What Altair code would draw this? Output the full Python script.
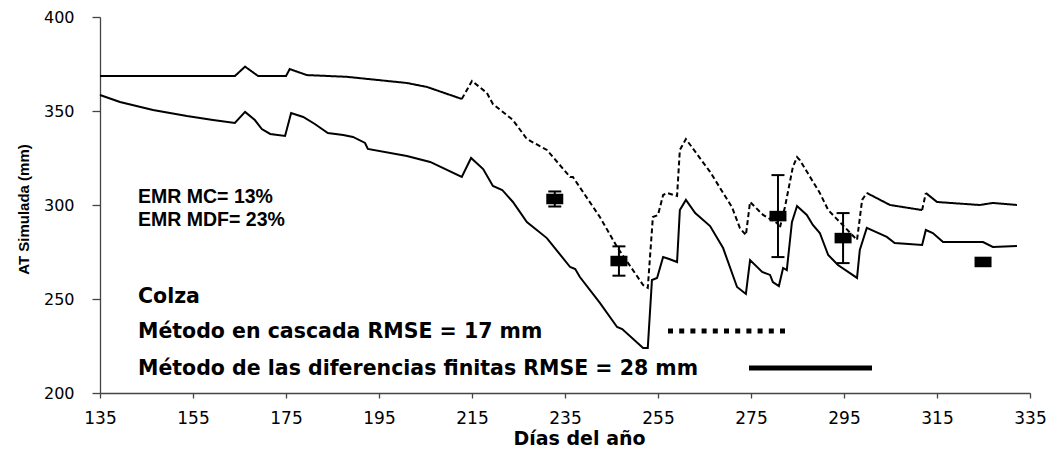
import altair as alt
import pandas as pd

# Simulated water storage, cascade method (upper curve)
up_day = [135, 164, 166.2, 169, 175, 175.8, 179.5, 188, 201, 205.3, 212.8, 215, 218.2, 219.5,
          223.8, 226.8, 231.1, 236.1, 236.7, 242.5, 246.2, 251.8, 252.8, 253.9, 255, 256.1,
          256.9, 259.1, 259.7, 261, 266.2, 270.9, 272.6, 273.9, 274.8, 277.6, 280.6, 281.2,
          282.3, 284, 284.9, 285.5, 289.8, 291.6, 297.8, 298.9, 299.9, 304.9, 311.8, 312.6,
          315, 317.8, 324.2, 327, 332.2]
up_val = [368.6, 368.6, 373.6, 368.6, 368.6, 372.3, 369.1, 368.2, 364.9, 362.8, 356.4, 366,
          359.6, 353.7, 345.2, 335.1, 329.3, 314.9, 314.9, 293.6, 277.7, 257.4, 255.9, 293.6,
          294.7, 305.3, 306.4, 304.8, 329.3, 335.1, 317.6, 298.9, 287.8, 284, 301.6, 294.7,
          290.4, 287.8, 298.9, 320.2, 325.5, 323.9, 306.4, 297.3, 281.4, 302.7, 306.4, 300,
          297.3, 306.4, 301.6, 301.1, 300, 301.1, 300]

# Simulated water storage, finite differences method (lower curve)
low_day = [135, 139.3, 146.4, 153.7, 159.3, 164, 166.2, 168.3, 169.8, 171.6, 174.8, 176.1,
           178.7, 181.2, 184, 187.3, 189.4, 192, 192.6, 201, 206, 212.8, 214.8, 217.4, 219.5,
           221.5, 223.8, 226.8, 231.1, 236.1, 237.2, 238.2, 242.5, 246.2, 247.3, 251.8, 252.8,
           253.7, 254.8, 256.1, 257.4, 259.1, 259.7, 261, 263, 266.2, 269, 272, 273.9, 274.8,
           277.4, 279.1, 279.7, 281, 281.9, 282.7, 283.8, 284.9, 287, 288.3, 289.8, 291.6,
           293.7, 297.8, 298.4, 299.9, 304.2, 305.9, 311.8, 312.6, 314.1, 316.3, 324.9, 327,
           332.2]
low_val = [358.5, 354.8, 350.5, 347.3, 345.2, 343.6, 349.5, 345.2, 340.4, 337.8, 336.7, 348.9,
           346.8, 343.1, 338.3, 337.2, 336.2, 333, 329.8, 326.1, 322.9, 314.9, 325, 319.1, 310.1,
           308, 301.6, 290.9, 282.4, 267, 265.9, 261.7, 247.9, 235.1, 234, 223.9, 223.9, 260.1,
           261.2, 272.3, 271.3, 269.7, 297.3, 302.7, 295.7, 288.8, 277.1, 256.4, 252.7, 270.7,
           264.4, 262.8, 259, 256.9, 266.5, 265.4, 290.9, 299.5, 294.7, 289.4, 285.1, 273.4,
           268.1, 261.2, 276.1, 287.8, 283, 279.8, 278.7, 286.7, 285.1, 280.3, 280.3, 277.7,
           278.2]

# Measured storage with its spread
obs_day = [232.8, 246.6, 280.8, 294.8, 324.9]
obs_val = [303.2, 270.2, 294.1, 282.4, 269.7]
obs_err = [4.0, 7.8, 21.8, 13.3, 0.0]

x_ticks = list(range(135, 336, 20))
y_ticks = list(range(200, 401, 50))

stats_text = ["EMR MC= 13%", "EMR MDF= 23%"]
legend_text = ["Colza",
               "Método en cascada RMSE = 17 mm",
               "Método de las diferencias finitas RMSE = 28 mm"]

W, H = 930, 376
BOLD_WIDE = "DejaVu Sans"

# where the cascade curve switches between solid and dashed stroke
style_breaks = [212.8, 299.9, 311.8, 312.6]


def style_at(day):
    n = sum(1 for b in style_breaks if day > b)
    return "solid" if n % 2 == 0 else "dashed"


rows = []
seg_id = -1
prev = None
for i in range(len(up_day) - 1):
    s = style_at((up_day[i] + up_day[i + 1]) / 2)
    if s != prev:
        seg_id += 1
        rows.append(dict(day=up_day[i], val=up_val[i], seg=seg_id, style=s))
        prev = s
    rows.append(dict(day=up_day[i + 1], val=up_val[i + 1], seg=seg_id, style=s))
cascade = pd.DataFrame(rows)
finite = pd.DataFrame({"day": low_day, "val": low_val})
obs = pd.DataFrame({"day": obs_day, "val": obs_val, "err": obs_err})
obs["lo"] = obs["val"] - obs["err"]
obs["hi"] = obs["val"] + obs["err"]
bars = obs[obs["err"] > 0]

x_scale = alt.Scale(domain=[135, 335], nice=False, zero=False)
y_scale = alt.Scale(domain=[200, 400], nice=False, zero=False)

x_axis = alt.Axis(values=x_ticks, title="Días del año", grid=False, tickSize=5,
                  domainColor="#444", tickColor="#444", domainWidth=1.3, tickWidth=1.3,
                  labelFont="DejaVu Sans", labelFontSize=17, labelColor="black",
                  labelPadding=12, labelFlush=False,
                  titleFont=BOLD_WIDE, titleFontSize=19, titleFontWeight="bold",
                  titleColor="black", titleX=479, titleY=51, titleBaseline="alphabetic",
                  titleAlign="center")
y_axis = alt.Axis(values=y_ticks, title="AT Simulada (mm)", grid=False, tickSize=8,
                  domainColor="#444", tickColor="#444", domainWidth=1.3, tickWidth=1.3,
                  labelFont="DejaVu Sans", labelFontSize=16, labelColor="black",
                  labelPadding=18, labelFlush=False,
                  titleFont="Liberation Sans", titleFontSize=15, titleFontWeight="bold",
                  titleColor="black", titleX=-77, titleY=192, titleAngle=270,
                  titleBaseline="middle", titleAlign="center")

X = alt.X("day:Q", scale=x_scale, axis=x_axis)
Y = alt.Y("val:Q", scale=y_scale, axis=y_axis)

finite_line = alt.Chart(finite).mark_line(color="black", strokeWidth=2).encode(x=X, y=Y)

cascade_line = alt.Chart(cascade).mark_line(color="black", strokeWidth=2).encode(
    x=alt.X("day:Q", scale=x_scale),
    y=alt.Y("val:Q", scale=y_scale),
    detail="seg:N",
    strokeDash=alt.StrokeDash("style:N", legend=None,
                              scale=alt.Scale(domain=["solid", "dashed"],
                                              range=[[1, 0], [5, 3]])),
)

err_rule = alt.Chart(bars).mark_rule(color="black", strokeWidth=2).encode(
    x=alt.X("day:Q", scale=x_scale), y=alt.Y("lo:Q", scale=y_scale), y2="hi:Q")
cap_lo = alt.Chart(bars).mark_tick(orient="horizontal", size=13, thickness=2,
                                   color="black", opacity=1).encode(
    x=alt.X("day:Q", scale=x_scale), y=alt.Y("lo:Q", scale=y_scale))
cap_hi = alt.Chart(bars).mark_tick(orient="horizontal", size=13, thickness=2,
                                   color="black", opacity=1).encode(
    x=alt.X("day:Q", scale=x_scale), y=alt.Y("hi:Q", scale=y_scale))

boxes = alt.Chart(obs).mark_point(shape="M-1,-0.62H1V0.62H-1Z", size=289, filled=True,
                                  color="black", opacity=1, strokeWidth=0).encode(
    x=alt.X("day:Q", scale=x_scale), y=alt.Y("val:Q", scale=y_scale))


def label(text, x, y, font, size):
    return alt.Chart(pd.DataFrame({"t": [text]})).mark_text(
        align="left", baseline="middle", font=font, fontSize=size, fontWeight="bold",
        color="black").encode(text="t:N", x=alt.value(x), y=alt.value(y))


texts = [
    label(stats_text[0], 38, 180, "Liberation Sans", 19.5),
    label(stats_text[1], 38, 203, "Liberation Sans", 19.5),
    label(legend_text[0], 38, 280, BOLD_WIDE, 20.5),
    label(legend_text[1], 38, 315, BOLD_WIDE, 20.5),
    label(legend_text[2], 38, 352, BOLD_WIDE, 20.5),
]

key_dotted = alt.Chart(pd.DataFrame({"k": [0]})).mark_rule(
    color="black", strokeWidth=5, strokeDash=[5, 6.2], strokeCap="butt").encode(
    x=alt.value(568), x2=alt.value(688), y=alt.value(314))
key_solid = alt.Chart(pd.DataFrame({"k": [0]})).mark_rule(
    color="black", strokeWidth=5, strokeCap="butt").encode(
    x=alt.value(649), x2=alt.value(772), y=alt.value(351))

chart = alt.layer(
    finite_line, cascade_line, err_rule, cap_lo, cap_hi, boxes,
    key_dotted, key_solid, *texts
).properties(
    width=W, height=H,
    padding={"left": 100, "top": 17, "right": 27, "bottom": 58},
    autosize=alt.AutoSizeParams(type="none"),
    background="white",
).configure_view(stroke=None)

chart.save("out.html", embed_options={"renderer": "svg", "actions": False})
